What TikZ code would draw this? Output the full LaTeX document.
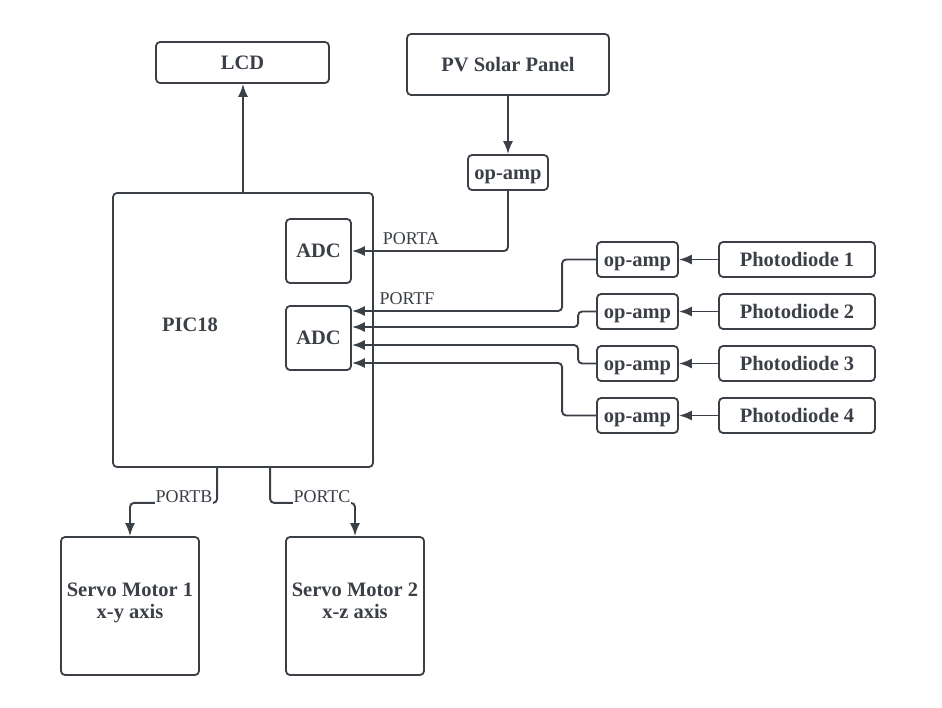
\documentclass[tikz,border=0pt]{standalone}
\usepackage{fontspec}
\setmainfont{Liberation Serif}
\usetikzlibrary{arrows.meta,calc}

\definecolor{ink}{HTML}{3B3F46}

\begin{document}
\begin{tikzpicture}[x=1pt,y=-1pt,
  box/.style={draw=ink,line width=1.8pt,rounded corners=4pt,align=center,
    text=ink,font=\fontsize{20.5}{22}\selectfont\bfseries,inner sep=0pt,
    text height=15pt,text depth=2pt},
  motor/.style={box,minimum width=138pt,minimum height=138pt,
    text height=37pt,text depth=12pt},
  conn/.style={draw=ink,line width=1.9pt,rounded corners=4pt,
    -{Latex[length=13pt,width=10pt]}},
  lbl/.style={text=ink,font=\fontsize{18}{20}\selectfont,inner sep=1pt}]
\useasboundingbox (0,0) rectangle (942,707);

\node[box,minimum width=173pt,minimum height=41pt] (lcd) at (242.5,62.5) {LCD};
\node[box,minimum width=202pt,minimum height=61pt] (pv) at (508,64.5) {PV Solar Panel};
\node[box,minimum width=80pt,minimum height=35pt] (opa) at (508,172.5) {op-amp};
\node[box,minimum width=260pt,minimum height=274pt] (pic) at (243,330) {};
\node[box,draw=none] (pictext) at (190,325) {PIC18};
\node[box,minimum width=65pt,minimum height=64pt] (adca) at (318.5,251) {ADC};
\node[box,minimum width=65pt,minimum height=64pt] (adcf) at (318.5,338) {ADC};
\node[motor] (servoa) at (130,606) {Servo Motor 1\\x-y axis};
\node[motor] (servob) at (355,606) {Servo Motor 2\\x-z axis};

\foreach \i/\y in {1/259.5,2/311.5,3/363.5,4/415.5} {
  \node[box,minimum width=81pt,minimum height=35pt] (op\i) at (637.5,\y) {op-amp};
  \node[box,minimum width=156pt,minimum height=35pt] (pd\i) at (797,\y) {Photodiode \i};
  \draw[conn] (pd\i.west) -- (op\i.east);
}

\draw[conn] (pic.north) -- (pic.north |- lcd.south);
\draw[conn] (pv.south) -- (opa.north);
\draw[conn] (opa.south) |- (adca.east);
\foreach \i/\dx/\dy in {1/34/-27,2/18/-11,3/18/7,4/34/25}
  \draw[conn] (op\i.west) -- ++(-\dx,0) |- ($(adcf.east)+(0,\dy)$);

\draw[conn] ($(pic.south west)+(105,0)$) -- ++(0,35) -| (servoa.north);
\draw[conn] ($(pic.south west)+(158,0)$) -- ++(0,35) -| (servob.north);

\node[lbl] (porta) at (411,239) {PORTA};
\node[lbl] (portf) at (407,299) {PORTF};
\node[lbl,fill=white] (portb) at (184,497) {PORTB};
\node[lbl,fill=white] (portc) at (322,497) {PORTC};
\end{tikzpicture}
\end{document}
